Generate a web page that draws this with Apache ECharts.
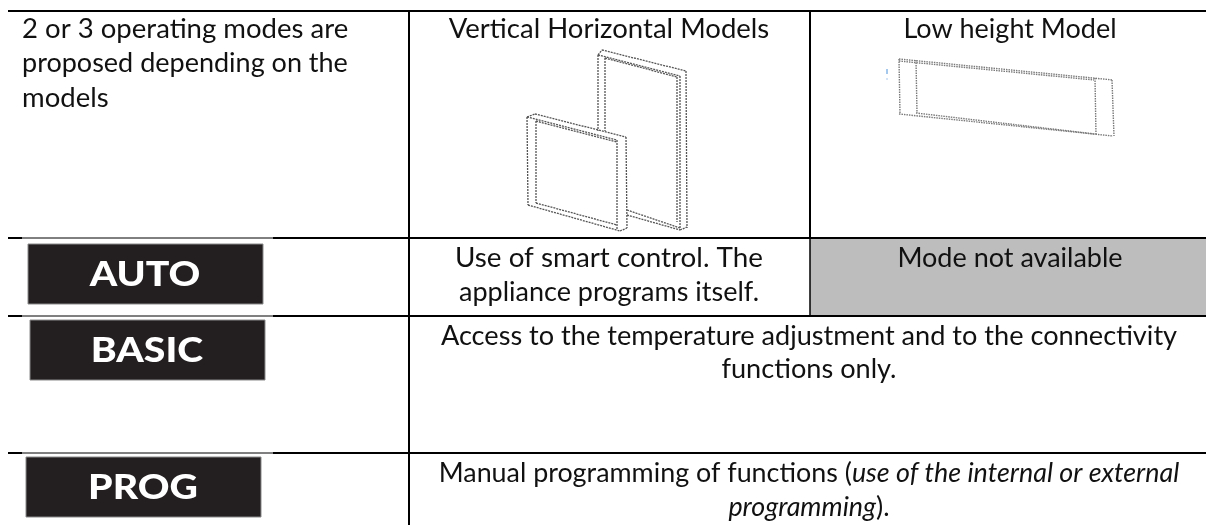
<!DOCTYPE html>
<html><head><meta charset="utf-8">
<style>html,body{margin:0;padding:0;background:#fff}#c{width:1206px;height:525px}</style>
<script src="https://cdn.jsdelivr.net/npm/echarts@6/dist/echarts.min.js"></script>
</head><body><div id="c"></div>
<script>
// Table content
const headerIntro = ['2 or 3 operating modes are', 'proposed depending on the', 'models'];
const columnTitles = ['Vertical Horizontal Models', 'Low height Model'];
const modeNames = ['AUTO', 'BASIC', 'PROG'];
const autoText = ['Use of smart control. The', 'appliance programs itself.'];
const unavailableText = ['Mode not available'];
const basicText = ['Access to the temperature adjustment and to the connectivity', 'functions only.'];
const progText = ['Manual programming of functions ({i|use of the internal or external}', '{i|programming}).'];

// Layout
const FONT = 'Lato, "Noto Sans", sans-serif';
const INK = '#111111';
const colX = [8, 409, 810, 1206];
const rowY = [11, 238, 316, 453, 525];
const COL2_MID = 609, COL3_MID = 1010, WIDE_MID = 809;
const badges = [[28, 244], [30, 320], [26, 457]];
const BADGE_W = 235, BADGE_H = 60;

const g = [];
function line(x1, y1, x2, y2, w, color, dash, z) {
  g.push({type: 'line', z: z || 5, silent: true,
    shape: {x1, y1, x2, y2},
    style: {stroke: color || '#000', lineWidth: w, lineDash: dash || null}});
}
function text(str, x, y, opts) {
  opts = opts || {};
  const size = opts.size || 27;
  g.push({type: 'text', z: 10, silent: true, x, y,
    originX: 0, originY: 0,
    scaleX: opts.sx || 1,
    style: {text: str, fill: opts.fill || INK, font: (opts.weight || 400) + ' ' + size + 'px ' + FONT,
      align: opts.align || 'center', verticalAlign: 'middle',
      rich: {i: {fontStyle: 'italic', fontFamily: 'Lato', fontSize: size, fill: INK}}}});
}

// grey unavailable cell
g.push({type: 'rect', z: 1, silent: true,
  shape: {x: colX[2], y: rowY[1], width: colX[3] - colX[2], height: rowY[2] - rowY[1]},
  style: {fill: '#bdbdbd'}});

// rules
line(colX[0], rowY[0], colX[3], rowY[0], 2);
[rowY[1], rowY[2], rowY[3]].forEach(y => {
  line(colX[0], y, 22, y, 2);
  line(22, y, 273, y, 1);
  line(273, y, colX[3], y, 2);
});
line(colX[1], rowY[0], colX[1], rowY[4], 2);
line(colX[2], rowY[0], colX[2], rowY[1], 2);
line(colX[2], rowY[1], colX[2], rowY[2], 1.5);

// badges
badges.forEach((b, i) => {
  g.push({type: 'rect', z: 4, silent: true,
    shape: {x: b[0], y: b[1], width: BADGE_W, height: BADGE_H},
    style: {fill: '#231f20', stroke: '#8a8a8a', lineWidth: 1}});
  text(modeNames[i], b[0] + 117, b[1] + 31, {size: 35, weight: 900, fill: '#ffffff', sx: 1.12});
});

// texts
headerIntro.forEach((t, i) => text(t, 22, 29 + i * 34.5, {align: 'left', sx: i === 1 ? 1.0 : 1.02}));
text(columnTitles[0], COL2_MID, 29, {sx: 1.02});
text(columnTitles[1], COL3_MID, 29);
autoText.forEach((t, i) => text(t, COL2_MID, 258 + i * 34.5, {sx: i === 0 ? 1.03 : 1}));
text(unavailableText[0], COL3_MID, 258);
basicText.forEach((t, i) => text(t, WIDE_MID, 336 + i * 33, {sx: 1.005}));
progText.forEach((t, i) => text(t, WIDE_MID, 473 + i * 34, {sx: 0.995}));

// wireframe illustrations
const FRAME = '#555555', dash = [2, 1];
const backFrame = [
  [598,55,602,50],[602,50,686,71],[598,55,680,76],[605,58,677,77],
  [598,55,598,131],[605,58,605,131],[677,77,677,222],[680,76,680,228],[686,71,687,228],
  [627,210,680,228],[627,215,680,230],[680,230,687,227]
];
const frontFrame = [
  [527,117,535,114],[535,114,626,137],[527,117,617,140],[536,121,617,142],
  [527,117,528,205],[536,121,536,203],[617,140,617,230],[626,137,627,228],
  [528,205,620,231],[536,203,617,225],[620,231,627,228]
];
const lowFrame = [
  [899,59,1113,80],[899,61,1094,80],[899,114,1113,136],[916,113,1095,134],
  [899,59,900,114],[916,60,917,113],[1095,78,1096,135],[1112,80,1114,136]
];
[backFrame, frontFrame].forEach(f => f.forEach(s => line(s[0], s[1], s[2], s[3], 1.3, FRAME, dash, 6)));
lowFrame.forEach(s => line(s[0], s[1], s[2], s[3], 1.4, '#7a7a7a', [1.5, 1], 6));
line(887, 69, 887, 74, 1, '#4a90d9', null, 6);
line(887, 78, 887, 80, 1, '#a8c8ec', null, 6);

const chart = echarts.init(document.getElementById('c'), null, {renderer: 'canvas'});
chart.setOption({animation: false, backgroundColor: '#ffffff', graphic: {elements: g}});
</script></body></html>
